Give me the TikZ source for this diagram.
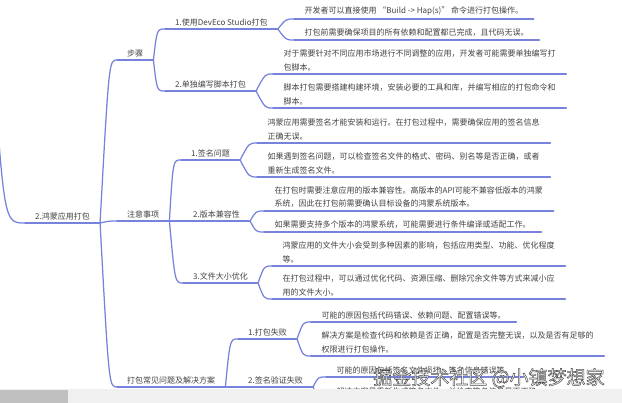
\documentclass[tikz,border=0pt]{standalone}
\usepackage{fontspec}
\newfontfamily\cjk{Noto Sans CJK SC}
\usetikzlibrary{calc}
\definecolor{mapline}{RGB}{118,130,220}
\definecolor{maptext}{RGB}{66,66,66}
\definecolor{barbg}{RGB}{240,240,240}
\definecolor{barthumb}{RGB}{192,192,192}
\tikzset{
  topic/.style={anchor=south west, inner xsep=10pt, inner ysep=3pt, text=maptext,
    font=\cjk\fontsize{8}{13.5}\selectfont, align=left},
  leaf/.style={topic, inner xsep=10.5pt},
  branch/.style={draw=mapline, line width=1.25pt, line cap=round},
}
\newcommand{\uline}[1]{\draw[branch] (#1.south west) -- (#1.south east);}
\newcommand{\link}[2]{\draw[branch] (#1.south east) .. controls ($(#2.south west)+(-8,0)$) .. (#2.south west);}
% hollow white letters with a dark rim
\newcommand{\rimtext}[1]{\special{pdf:literal direct 2 Tr 0.5 w 1 g 0.3 G}#1}

\begin{document}
\begin{tikzpicture}[x=1pt, y=-1pt]
  \useasboundingbox (0,0) rectangle (622,403);
  \clip (0,0) rectangle (622,403);

  % main topics
  \node[topic] (root) at (25,223) {2.鸿蒙应用打包};
  \node[topic] (steps) at (117,60) {步骤};
  \node[topic] (notes) at (117,221) {注意事项};
  \node[topic] (faq) at (117,387) {打包常见问题及解决方案};

  \node[topic] (deveco) at (165,29) {1.使用DevEco Studio打包};
  \node[topic] (script) at (165,91) {2.单独编写脚本打包};
  \node[topic] (sign) at (181,160) {1.签名问题};
  \node[topic] (compat) at (183,221) {2.版本兼容性};
  \node[topic] (size) at (183,283) {3.文件大小优化};
  \node[topic] (fail) at (238,339) {1.打包失败};
  \node[topic] (verify) at (238,387) {2.签名验证失败};

  % leaves
  \node[leaf] (deveco1) at (294,19) {开发者可以直接使用 “Build -> Hap(s)” 命令进行打包操作。};
  \node[leaf] (deveco2) at (294,40) {打包前需要确保项目的所有依赖和配置都已完成，且代码无误。};
  \node[leaf] (script1) at (273,74) {对于需要针对不同应用市场进行不同调整的应用，开发者可能需要单独编写打\\包脚本。};
  \node[leaf] (script2) at (273,108) {脚本打包需要搭建构建环境，安装必要的工具和库，并编写相应的打包命令和\\脚本。};
  \node[leaf] (sign1) at (257,143) {鸿蒙应用需要签名才能安装和运行。在打包过程中，需要确保应用的签名信息\\正确无误。};
  \node[leaf] (sign2) at (257,177) {如果遇到签名问题，可以检查签名文件的格式、密码、别名等是否正确，或者\\重新生成签名文件。};
  \node[leaf] (compat1) at (264,211) {在打包时需要注意应用的版本兼容性。高版本的API可能不兼容低版本的鸿蒙\\系统，因此在打包前需要确认目标设备的鸿蒙系统版本。};
  \node[leaf] (compat2) at (264,232) {如果需要支持多个版本的鸿蒙系统，可能需要进行条件编译或适配工作。};
  \node[leaf] (size1) at (272,266) {鸿蒙应用的文件大小会受到多种因素的影响，包括应用类型、功能、优化程度\\等。};
  \node[leaf] (size2) at (272,299) {在打包过程中，可以通过优化代码、资源压缩、删除冗余文件等方式来减小应\\用的文件大小。};
  \node[leaf] (fail1) at (311,322) {可能的原因包括代码错误、依赖问题、配置错误等。};
  \node[leaf] (fail2) at (311,356) {解决方案是检查代码和依赖是否正确，配置是否完整无误，以及是否有足够的\\权限进行打包操作。};
  \node[leaf] (verify1) at (326,377) {可能的原因包括签名文件损坏、签名信息错误等。};
  \node[leaf] (verify2) at (326,399) {解决方案是重新生成签名文件，并检查签名信息是否正确。};

  % incoming branch from the parent outside the view
  \coordinate (up) at (-8,40);
  \draw[branch] (up) .. controls (4,223) .. (root.south west);

  \foreach \n in {root,steps,notes,faq,deveco,script,sign,compat,size,fail,verify,
      deveco1,deveco2,script1,script2,sign1,sign2,compat1,compat2,size1,size2,
      fail1,fail2,verify1,verify2}
    {\uline{\n}}
  \foreach \p/\c in {root/steps,root/notes,root/faq,steps/deveco,steps/script,
      notes/sign,notes/compat,notes/size,faq/fail,faq/verify,
      deveco/deveco1,deveco/deveco2,script/script1,script/script2,
      sign/sign1,sign/sign2,compat/compat1,compat/compat2,size/size1,size/size2,
      fail/fail1,fail/fail2,verify/verify1,verify/verify2}
    {\link{\p}{\c}}

  % scroll bar
  \fill[barbg] (0,389) rectangle (622,403);
  \fill[barthumb] (0,390) rectangle (68,403);

  % watermark
  \node[font=\cjk\fontsize{19}{19}\selectfont, inner sep=0pt] (mark) at (489,378)
    {\rimtext{掘金技术社区 @小镇梦想家}};
\end{tikzpicture}
\end{document}
